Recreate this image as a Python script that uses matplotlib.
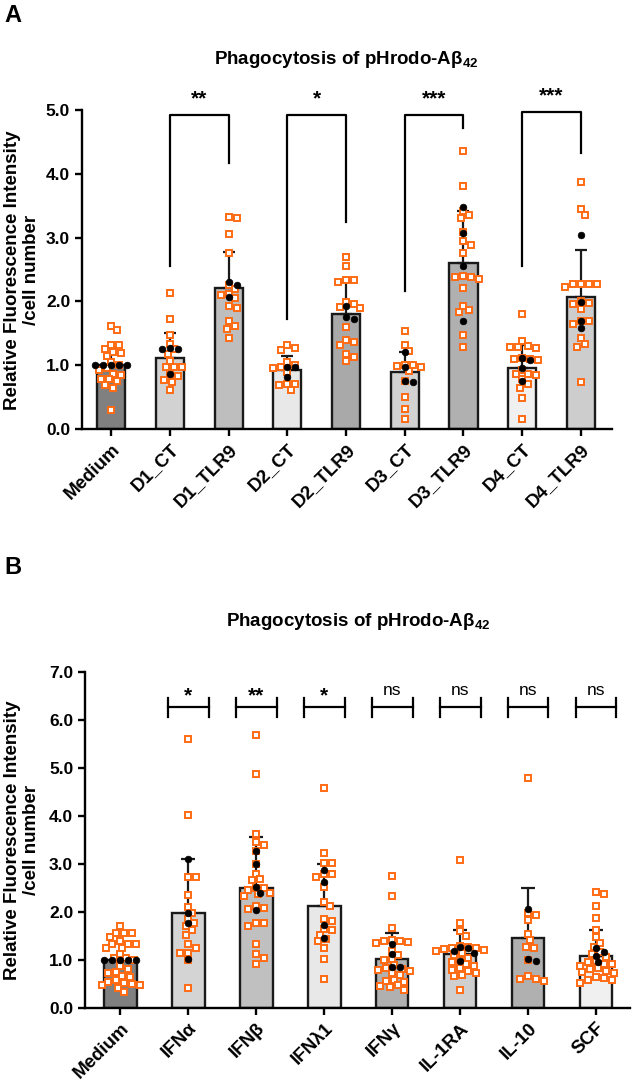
import numpy as np
import matplotlib
matplotlib.use("Agg")
from matplotlib import pyplot as plt

plt.rcParams['font.family'] = ['Liberation Sans', 'DejaVu Sans']
plt.rcParams['font.weight'] = 'bold'
plt.rcParams['mathtext.fontset'] = 'custom'
plt.rcParams['mathtext.rm'] = 'Liberation Sans:bold'
plt.rcParams['mathtext.bf'] = 'Liberation Sans:bold'
plt.rcParams['mathtext.default'] = 'bf'

# ---- panel A data ----
groups_a = ["Medium", "D1_CT", "D1_TLR9", "D2_CT", "D2_TLR9",
            "D3_CT", "D3_TLR9", "D4_CT", "D4_TLR9"]
mean_a = [1.00, 1.12, 2.21, 0.92, 1.80, 0.90, 2.60, 0.96, 2.07]
sd_a = [0.29, 0.39, 0.57, 0.22, 0.50, 0.31, 0.82, 0.35, 0.74]
colors_a = ["#808080", "#d2d2d2", "#bebebe", "#e8e8e8", "#a9a9a9",
            "#d2d2d2", "#b0b0b0", "#f0f0f0", "#cdcdcd"]
orange_a = [
    [1.61, 1.55, 1.32, 1.32, 1.26, 1.21, 1.19, 1.14, 1.05, 1.00, 0.95, 0.93,
     0.87, 0.85, 0.78, 0.78, 0.76, 0.69, 0.65, 0.30],
    [2.13, 1.73, 1.48, 1.34, 1.25, 1.18, 1.07, 0.98, 0.98, 0.97, 0.84, 0.83,
     0.77, 0.73, 0.61],
    [3.33, 3.30, 3.06, 2.76, 2.26, 2.19, 2.12, 2.10, 2.06, 1.93, 1.90, 1.69,
     1.61, 1.57, 1.43],
    [1.32, 1.27, 1.24, 1.05, 1.00, 0.97, 0.95, 0.90, 0.70, 0.70, 0.69, 0.61],
    [2.70, 2.56, 2.34, 2.34, 2.30, 1.99, 1.96, 1.91, 1.90, 1.60, 1.40, 1.36,
     1.32, 1.18, 1.13, 1.06],
    [1.54, 1.31, 1.22, 1.00, 1.00, 0.99, 0.98, 0.91, 0.75, 0.51, 0.32, 0.16],
    [4.36, 3.81, 3.42, 3.36, 3.31, 3.09, 2.94, 2.89, 2.76, 2.40, 2.39, 2.39,
     2.35, 2.21, 1.93, 1.86, 1.84, 1.48, 1.29],
    [1.80, 1.38, 1.30, 1.28, 1.27, 1.29, 1.12, 1.10, 1.10, 1.09, 0.93, 0.86,
     0.85, 0.86, 0.78, 0.70, 0.65, 0.49, 0.16],
    [3.87, 3.45, 3.36, 2.28, 2.27, 2.28, 2.27, 2.22, 2.00, 1.98, 1.96, 1.88,
     1.69, 1.69, 1.65, 1.43, 1.33, 1.29, 0.74],
]
black_a = [
    [1.00, 1.00, 1.00, 1.00, 1.00],
    [1.26, 1.26, 1.27, 0.87],
    [2.25, 2.30, 2.07],
    [0.98, 0.97, 0.82],
    [1.93, 1.73, 1.76],
    [1.21, 0.97, 0.76, 0.74],
    [3.48, 3.07, 2.56, 1.69],
    [1.11, 1.09, 0.96, 0.75],
    [3.04, 1.99, 1.69, 1.58],
]
# significance brackets: left group, right group, top, left leg end, right leg end, label
brk_left = [1, 3, 5, 7]
brk_right = [2, 4, 6, 8]
brk_top = [4.92, 4.92, 4.92, 4.97]
brk_lend = [2.56, 1.72, 2.16, 2.56]
brk_rend = [4.17, 3.25, 4.72, 4.33]
brk_label = ["**", "*", "***", "***"]

# ---- panel B data ----
groups_b = ["Medium", "IFNα", "IFNβ", "IFNλ1", "IFNγ", "IL-1RA", "IL-10", "SCF"]
mean_b = [1.00, 1.98, 2.51, 2.12, 1.03, 1.12, 1.46, 1.09]
sd_b = [0.37, 1.13, 1.05, 0.87, 0.53, 0.50, 1.04, 0.54]
colors_b = ["#808080", "#d4d4d4", "#c0c0c0", "#e8e8e8", "#b0b0b0",
            "#cfcfcf", "#b0b0b0", "#f0f0f0"]
orange_b = [
    [1.70, 1.57, 1.56, 1.56, 1.48, 1.40, 1.34, 1.34, 1.34, 1.26, 1.26, 1.12,
     1.04, 1.04, 1.00, 0.87, 0.81, 0.75, 0.73, 0.67, 0.65, 0.58, 0.55, 0.53,
     0.51, 0.47, 0.47, 0.42, 0.33],
    [5.61, 4.03, 2.73, 2.72, 2.35, 2.10, 1.98, 1.86, 1.77, 1.71, 1.62, 1.53,
     1.33, 1.26, 1.15, 1.14, 1.00, 0.42],
    [5.68, 4.87, 3.62, 3.46, 3.40, 3.27, 2.99, 2.80, 2.68, 2.66, 2.51, 2.49,
     2.45, 2.40, 2.37, 2.33, 2.12, 2.08, 2.06, 1.78, 1.78, 1.71, 1.34, 1.12,
     1.05, 0.92],
    [4.59, 3.23, 3.03, 3.03, 2.79, 2.79, 2.72, 2.52, 2.21, 2.13, 1.86, 1.81,
     1.65, 1.63, 1.53, 1.44, 1.39, 1.26, 1.02, 0.60],
    [2.76, 2.33, 1.67, 1.42, 1.40, 1.40, 1.38, 1.36, 1.19, 1.11, 1.03, 0.99,
     0.89, 0.84, 0.82, 0.80, 0.78, 0.73, 0.68, 0.59, 0.57, 0.55, 0.47, 0.46,
     0.44, 0.38],
    [3.08, 1.78, 1.60, 1.51, 1.29, 1.27, 1.26, 1.24, 1.22, 1.20, 1.18, 1.15,
     1.10, 1.05, 1.00, 0.95, 0.91, 0.87, 0.83, 0.80, 0.77, 0.73, 0.69, 0.66,
     0.38],
    [4.79, 1.98, 1.94, 1.83, 1.55, 1.41, 1.28, 1.24, 1.00, 0.67, 0.61, 0.61,
     0.56],
    [2.42, 2.38, 2.12, 1.88, 1.63, 1.47, 1.35, 1.27, 1.17, 1.12, 1.07, 0.98,
     0.95, 0.92, 0.92, 0.88, 0.84, 0.81, 0.78, 0.74, 0.73, 0.65, 0.62, 0.59,
     0.59, 0.53],
]
black_b = [
    [1.00, 1.00, 1.00, 1.00, 1.00],
    [3.11, 1.98, 1.78, 1.03],
    [3.27, 2.99, 2.53, 2.40, 2.05],
    [2.88, 2.62, 1.73, 1.45],
    [1.34, 1.12, 0.86, 0.85],
    [1.28, 1.24, 1.19, 1.15, 0.98],
    [2.07, 1.03, 0.98],
    [1.24, 1.17, 1.09, 0.95],
]
sig_b = ["", "*", "**", "*", "ns", "ns", "ns", "ns"]
sig_b_y = 6.26

ORANGE = "#ff6a13"
EDGE = "#1a1a1a"


# spread points sideways so they do not overlap (like a prism scatter)
def swarm(vals, xpx, ypx, d=7.0, step=2.0):
    vals = np.asarray(vals, dtype=float)
    offs = np.zeros(len(vals))
    placed = []
    for i in np.argsort(-vals, kind="stable"):
        y = vals[i] * ypx
        for k in range(60):
            cand = ((k + 1) // 2) * step * (1 if k % 2 else -1)
            if all((cand - px) ** 2 + (y - py) ** 2 >= d * d for px, py in placed):
                break
        placed.append((cand, y))
        offs[i] = cand / xpx
    return offs


def draw_panel(ax, groups, means, sds, colors, oranges, blacks, xpx, ypx, capsize):
    x = np.arange(len(groups))
    ax.bar(x, means, width=0.48, color=colors, edgecolor=EDGE, linewidth=1.7, zorder=2)
    ax.errorbar(x, means, yerr=[np.zeros(len(x)), sds], fmt="none", ecolor=EDGE,
                elinewidth=1.6, capsize=capsize, capthick=1.6, zorder=3)
    for i in range(len(groups)):
        ov = oranges[i]
        ax.plot(x[i] + swarm(ov, xpx, ypx), ov, ls="none", marker="s", ms=4.0,
                mfc="white", mec=ORANGE, mew=1.4, zorder=4, clip_on=False)
        bv = blacks[i]
        ax.plot(x[i] + swarm(bv, xpx, ypx), bv, ls="none", marker="o", ms=4.8,
                mew=0.5, color="black", zorder=5, clip_on=False)
    for s in ["top", "right"]:
        ax.spines[s].set_visible(False)
    for s in ["left", "bottom"]:
        ax.spines[s].set_linewidth(1.7)
    ax.tick_params(width=1.7, length=5, labelsize=12.5)
    ax.set_xticks(x)
    ax.set_xticklabels(groups, rotation=45, ha="right", rotation_mode="anchor",
                       fontsize=13.5, fontweight="bold")
    for t in ax.get_yticklabels():
        t.set_fontweight("bold")


fig = plt.figure(figsize=(6.33, 10.84), dpi=100)
title = "Phagocytosis of pHrodo-Aβ$_{42}$"
ylab = "Relative Fluorescence Intensity\n/cell number"

# panel A
axA = fig.add_axes([0.1295, 0.6042, 0.8373, 0.2943])
draw_panel(axA, groups_a, mean_a, sd_a, colors_a, orange_a, black_a, 58.7, 64, 4.5)
axA.set_xlim(-0.5, 8.53)
axA.set_ylim(0, 5.0)
axA.set_yticks(np.arange(0, 5.01, 1.0))
axA.set_yticklabels(["%.1f" % v for v in np.arange(0, 5.01, 1.0)])
for i in range(len(brk_left)):
    xl, xr = brk_left[i], brk_right[i]
    axA.plot([xl, xl, xr, xr], [brk_lend[i], brk_top[i], brk_top[i], brk_rend[i]],
             color="black", lw=1.6, clip_on=False, zorder=6)
    axA.text((xl + xr) / 2, brk_top[i] + 0.1, brk_label[i], ha="center",
             va="bottom", fontsize=15, fontweight="bold")
fig.text(346 / 633, 1 - 60 / 1084, title, ha="center", va="center",
         fontsize=13.5, fontweight="bold")
fig.text(22 / 633, 1 - 270 / 1084, ylab, rotation=90, ha="center", va="center",
         fontsize=13.5, fontweight="bold", linespacing=1.15)
fig.text(4 / 633, 1 - 16 / 1084, "A", ha="left", va="center", fontsize=17,
         fontweight="bold")

# panel B
axB = fig.add_axes([0.1343, 0.0701, 0.8610, 0.3100])
draw_panel(axB, groups_b, mean_b, sd_b, colors_b, orange_b, black_b, 68, 48, 5.2)
axB.set_xlim(-0.52, 7.5)
axB.set_ylim(0, 7.0)
axB.set_yticks(np.arange(0, 7.01, 1.0))
axB.set_yticklabels(["%.1f" % v for v in np.arange(0, 7.01, 1.0)])
for i, lab in enumerate(sig_b):
    if not lab:
        continue
    axB.plot([i - 0.3, i + 0.3], [sig_b_y, sig_b_y], color="black", lw=1.6, zorder=6)
    for xe in [i - 0.3, i + 0.3]:
        axB.plot([xe, xe], [sig_b_y - 0.19, sig_b_y + 0.19], color="black", lw=1.6,
                 zorder=6)
    if lab == "ns":
        axB.text(i, sig_b_y + 0.2, lab, ha="center", va="bottom", fontsize=12.5,
                 fontweight="normal")
    else:
        axB.text(i, sig_b_y + 0.05, lab, ha="center", va="bottom", fontsize=15,
                 fontweight="bold")
fig.text(358 / 633, 1 - 621 / 1084, title, ha="center", va="center",
         fontsize=13.5, fontweight="bold")
fig.text(22 / 633, 1 - 840 / 1084, ylab, rotation=90, ha="center", va="center",
         fontsize=13.5, fontweight="bold", linespacing=1.15)
fig.text(4 / 633, 1 - 567 / 1084, "B", ha="left", va="center", fontsize=17,
         fontweight="bold")

fig.savefig("out.png", dpi=100)
